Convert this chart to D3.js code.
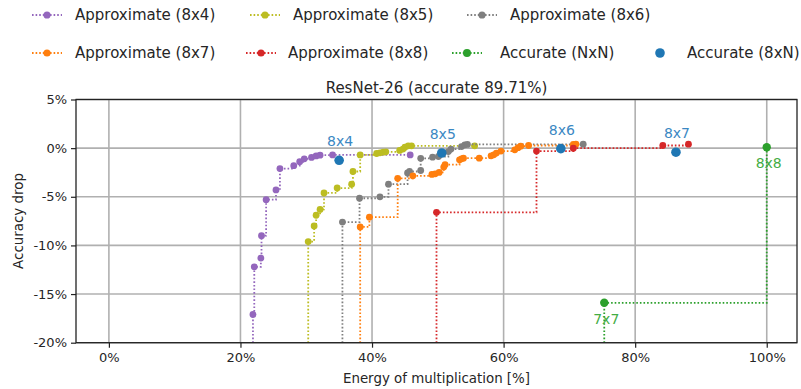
<!DOCTYPE html>
<html>
<head>
<meta charset="utf-8">
<script src="https://cdn.jsdelivr.net/npm/d3@7"></script>
<style>
  html, body { margin: 0; padding: 0; background: #fff; }
  svg { display: block; font-family: "DejaVu Sans", sans-serif; }
</style>
</head>
<body>
<svg id="chart" width="801" height="389"></svg>
<script>
// ---------- data (energy %, accuracy drop %) ----------
const approx8x4 = [[21.9,-17.1],[22.1,-12.2],[23.1,-11.3],[23.2,-9.0],[23.9,-5.3],[25.4,-4.3],[26.0,-2.1],[28.1,-1.8],[29.0,-1.4],[29.7,-1.1],[30.8,-0.95],[31.5,-0.8],[32.1,-0.72],[34.0,-0.7],[45.8,-0.7]];
const approx8x5 = [[30.3,-9.6],[31.2,-8.0],[31.5,-6.9],[32.1,-6.3],[32.7,-4.6],[34.7,-4.1],[36.9,-3.7],[37.1,-2.4],[38.2,-0.7],[40.7,-0.55],[41.2,-0.48],[41.7,-0.41],[42.1,-0.38],[44.2,-0.24],[44.7,-0.1],[45.0,0.1],[45.5,0.24],[46.0,0.24],[55.6,0.24]];
const approx8x6 = [[35.5,-7.6],[38.1,-5.15],[41.2,-5.0],[42.5,-3.7],[45.4,-2.55],[45.7,-2.4],[47.4,-2.3],[47.4,-1.05],[49.2,-0.93],[50.1,-0.86],[51.6,-0.35],[52.0,-0.1],[53.6,0.16],[54.1,0.34],[54.5,0.38],[72.1,0.41]];
const approx8x7 = [[38.2,-8.1],[39.6,-7.1],[43.9,-3.1],[46.2,-2.85],[49.1,-2.7],[49.6,-2.64],[50.2,-2.5],[50.9,-1.95],[51.1,-1.7],[53.3,-1.2],[53.6,-1.1],[53.9,-1.03],[56.3,-1.03],[58.1,-0.79],[58.5,-0.69],[58.9,-0.51],[59.6,-0.3],[61.7,-0.17],[62.2,0.05],[62.6,0.2],[63.8,0.27],[70.6,0.38],[71.0,0.41]];
const approx8x8 = [[49.8,-6.6],[65.0,-0.3],[70.6,0.0],[84.2,0.27],[88.1,0.41]];
const accurateNxN = [[75.3,-15.9],[100.0,0.1]];
const accurateNxNLabels = ["7x7","8x8"];
const accurate8xN = [[35.0,-1.25],[50.6,-0.5],[68.7,-0.05],[86.2,-0.42]];
const accurate8xNLabels = ["8x4","8x5","8x6","8x7"];

const seriesNames = ["Approximate (8x4)","Approximate (8x5)","Approximate (8x6)","Approximate (8x7)","Approximate (8x8)","Accurate (NxN)","Accurate (8xN)"];
const xTicks = [0,20,40,60,80,100];
const yTicks = [-20,-15,-10,-5,0,5];
const titleText = "ResNet-26 (accurate 89.71%)";
const xLabel = "Energy of multiplication [%]";
const yLabel = "Accuracy drop";

// ---------- styles ----------
const colors = ["#9467bd","#bcbd22","#7f7f7f","#ff7f0e","#d62728","#2ca02c","#1f77b4"];
const lineSeries = [approx8x4, approx8x5, approx8x6, approx8x7, approx8x8, accurateNxN];

const svg = d3.select("#chart");
svg.append("rect").attr("width",801).attr("height",389).attr("fill","#fff");

const L = 76, R = 797, T = 99.5, B = 342.7;
const x = d3.scaleLinear().domain([-5, 104.6]).range([L, R]);
const y = d3.scaleLinear().domain([-20, 5]).range([B, T]);

svg.append("defs").append("clipPath").attr("id","plotclip")
  .append("rect").attr("x",L).attr("y",T).attr("width",R-L).attr("height",B-T);

// grid
const grid = svg.append("g");
grid.selectAll(".gx").data(xTicks).join("line")
  .attr("x1",d=>x(d)).attr("x2",d=>x(d)).attr("y1",T).attr("y2",B)
  .attr("stroke","#b0b0b0").attr("stroke-width",1.6);
grid.selectAll(".gy").data(yTicks).join("line")
  .attr("x1",L).attr("x2",R).attr("y1",d=>y(d)).attr("y2",d=>y(d))
  .attr("stroke","#b0b0b0").attr("stroke-width",1.6);

// lines + markers
const plot = svg.append("g").attr("clip-path","url(#plotclip)");
const line = d3.line().x(d=>x(d[0])).y(d=>y(d[1])).curve(d3.curveStepAfter);
lineSeries.forEach((s,i)=>{
  const pts = [[s[0][0], -30]].concat(s);
  plot.append("path").attr("d", line(pts))
    .attr("fill","none").attr("stroke",colors[i]).attr("stroke-width",1.8)
    .attr("stroke-dasharray","1.6,2.0");
  plot.append("g").selectAll("circle").data(s).join("circle")
    .attr("cx",d=>x(d[0])).attr("cy",d=>y(d[1]))
    .attr("r", i===5 ? 4.2 : 3.4).attr("fill",colors[i]);
});
plot.append("g").selectAll("circle").data(accurate8xN).join("circle")
  .attr("cx",d=>x(d[0])).attr("cy",d=>y(d[1])).attr("r",4.8).attr("fill",colors[6]);

// point labels
svg.append("g").selectAll("text").data(accurate8xN).join("text")
  .attr("x",d=>x(d[0])+1).attr("y",d=>y(d[1])-19).attr("dy","0.35em")
  .attr("text-anchor","middle").attr("font-size",14).attr("fill","#3b88c3")
  .text((d,i)=>accurate8xNLabels[i]);
svg.append("g").selectAll("text").data(accurateNxN).join("text")
  .attr("x",d=>x(d[0])+2).attr("y",d=>y(d[1])+16).attr("dy","0.35em")
  .attr("text-anchor","middle").attr("font-size",14).attr("fill","#44ad44")
  .text((d,i)=>accurateNxNLabels[i]);

// axes
const fmt = d => String(d) + "%";
const xAxis = svg.append("g").attr("transform",`translate(0,${B})`)
  .call(d3.axisBottom(x).tickValues(xTicks).tickFormat(fmt).tickSize(5).tickPadding(5).tickSizeOuter(0));
const yAxis = svg.append("g").attr("transform",`translate(${L},0)`)
  .call(d3.axisLeft(y).tickValues(yTicks).tickFormat(fmt).tickSize(5).tickPadding(4).tickSizeOuter(0));
[xAxis,yAxis].forEach(a=>{
  a.select(".domain").remove();
  a.selectAll("line").attr("stroke","#222").attr("stroke-width",1.2);
  a.selectAll("text").attr("font-size",13).attr("fill","#262626").attr("font-family","DejaVu Sans");
});

// frame
svg.append("rect").attr("x",L).attr("y",T).attr("width",R-L).attr("height",B-T)
  .attr("fill","none").attr("stroke","#222").attr("stroke-width",1.3);

// titles
svg.append("text").attr("x",(L+R)/2).attr("y",93).attr("text-anchor","middle")
  .attr("font-size",15).attr("fill","#262626").text(titleText);
svg.append("text").attr("x",(L+R)/2).attr("y",383).attr("text-anchor","middle")
  .attr("font-size",13.4).attr("fill","#262626").text(xLabel);
svg.append("text").attr("transform","translate(23,221) rotate(-90)").attr("text-anchor","middle")
  .attr("font-size",13.4).attr("fill","#262626").text(yLabel);

// legend
const legendPos = [[32,15],[250,15],[467,15],[32,53],[246,53],[452,53],[645,53]];
const textOffset = [43,43,43,43,42,48,42];
const leg = svg.append("g");
seriesNames.forEach((name,i)=>{
  const [lx,ly] = legendPos[i];
  const g = leg.append("g");
  if (i < 6) {
    g.append("line").attr("x1",lx).attr("x2",lx+30).attr("y1",ly).attr("y2",ly)
      .attr("stroke",colors[i]).attr("stroke-width",1.8).attr("stroke-dasharray","1.6,2.0");
    g.append("circle").attr("cx",lx+15).attr("cy",ly).attr("r",i===5?4:3.6).attr("fill",colors[i]);
  } else {
    g.append("circle").attr("cx",lx+15).attr("cy",ly).attr("r",4.8).attr("fill",colors[i]);
  }
  g.append("text").attr("x",lx+textOffset[i]).attr("y",ly).attr("dy","0.35em")
    .attr("font-size",15).attr("fill","#262626").text(name);
});
</script>
</body>
</html>
